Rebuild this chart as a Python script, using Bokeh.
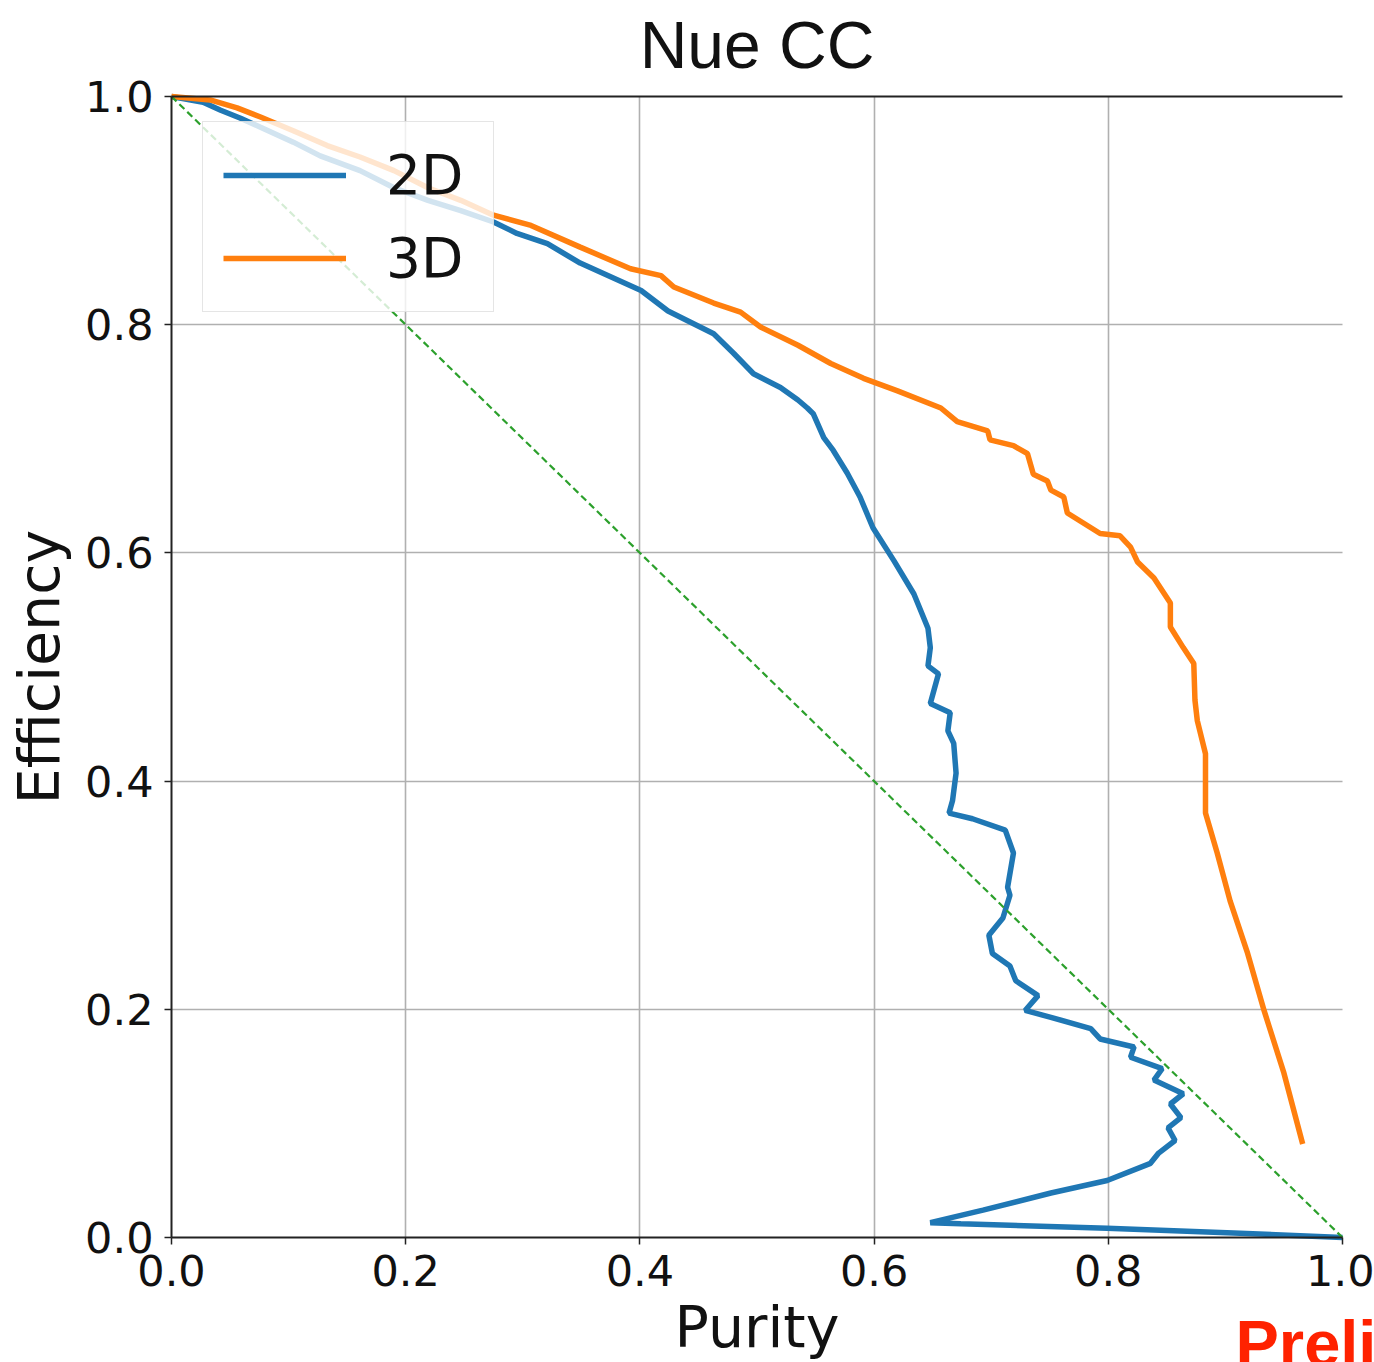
import math
from bokeh.plotting import figure
from bokeh.models import (Range1d, FixedTicker, Label, Legend, LegendItem,
                          LinearAxis, PrintfTickFormatter, Grid)
from bokeh.embed import file_html
from bokeh.resources import INLINE

# ---- data ----
title_text = "Nue CC"
x_label = "Purity"
y_label = "Efficiency"
stamp_text = "Preliminary"
series_names = ["2D", "3D"]
ticks = [0.0, 0.2, 0.4, 0.6, 0.8, 1.0]
grid_ticks = [0.2, 0.4, 0.6, 0.8]

purity_2d = [0.000, 0.027, 0.042, 0.059, 0.076, 0.104, 0.127, 0.161, 0.190, 0.219,
             0.247, 0.275, 0.295, 0.321, 0.349, 0.401, 0.424, 0.463, 0.480, 0.497,
             0.520, 0.535, 0.543, 0.548, 0.557, 0.565, 0.577, 0.588, 0.599, 0.617,
             0.634, 0.646, 0.648, 0.646, 0.655, 0.648, 0.665, 0.663, 0.668, 0.670,
             0.667, 0.664, 0.684, 0.712, 0.719, 0.714, 0.716, 0.710, 0.698, 0.701,
             0.716, 0.721, 0.740, 0.729, 0.751, 0.785, 0.793, 0.822, 0.819, 0.846,
             0.839, 0.864, 0.853, 0.862, 0.851, 0.857, 0.843, 0.836, 0.799, 0.751,
             0.693, 0.648, 0.674, 0.799, 0.907, 1.000]
eff_2d = [1.000, 0.995, 0.988, 0.981, 0.973, 0.960, 0.948, 0.935, 0.920, 0.909,
          0.900, 0.890, 0.880, 0.871, 0.854, 0.830, 0.812, 0.792, 0.775, 0.757,
          0.745, 0.734, 0.727, 0.722, 0.701, 0.690, 0.670, 0.649, 0.622, 0.593,
          0.564, 0.534, 0.517, 0.501, 0.494, 0.468, 0.460, 0.444, 0.433, 0.407,
          0.383, 0.372, 0.367, 0.357, 0.337, 0.307, 0.300, 0.280, 0.265, 0.249,
          0.238, 0.225, 0.212, 0.199, 0.193, 0.183, 0.174, 0.167, 0.158, 0.148,
          0.138, 0.126, 0.117, 0.105, 0.096, 0.085, 0.074, 0.065, 0.050, 0.039,
          0.024, 0.013, 0.012, 0.008, 0.004, 0.000]

purity_3d = [0.000, 0.033, 0.056, 0.076, 0.104, 0.133, 0.161, 0.190, 0.219, 0.247,
             0.275, 0.307, 0.349, 0.392, 0.418, 0.429, 0.463, 0.486, 0.503, 0.535,
             0.563, 0.591, 0.620, 0.657, 0.671, 0.697, 0.699, 0.719, 0.731, 0.736,
             0.748, 0.751, 0.762, 0.765, 0.779, 0.793, 0.810, 0.819, 0.825, 0.839,
             0.853, 0.853, 0.864, 0.873, 0.874, 0.876, 0.883, 0.883, 0.893, 0.904,
             0.919, 0.933, 0.950, 0.966]
eff_3d = [1.000, 0.997, 0.990, 0.982, 0.970, 0.957, 0.947, 0.935, 0.920, 0.909,
          0.896, 0.887, 0.868, 0.849, 0.843, 0.833, 0.819, 0.811, 0.798, 0.782,
          0.766, 0.753, 0.742, 0.727, 0.715, 0.707, 0.699, 0.694, 0.687, 0.669,
          0.663, 0.655, 0.649, 0.635, 0.626, 0.617, 0.615, 0.605, 0.592, 0.578,
          0.556, 0.535, 0.517, 0.503, 0.471, 0.453, 0.424, 0.372, 0.337, 0.295,
          0.249, 0.199, 0.144, 0.082]

diag_x = [0.0, 1.0]
diag_y = [1.0, 0.0]

# ---- figure: the frame fills the canvas; axes sit at fixed data locations ----
W, H = 1374, 1362
plot_left, plot_right, plot_top, plot_bottom = 171, 1342, 96, 1237  # pixel box of [0,1]x[0,1]
sx = plot_right - plot_left
sy = plot_bottom - plot_top
x_range = Range1d(-plot_left / sx, (W - plot_left) / sx)
y_range = Range1d(-(H - plot_bottom) / sy, plot_bottom / sy)

p = figure(width=W, height=H, x_range=x_range, y_range=y_range,
           output_backend="svg", toolbar_location=None,
           x_axis_location=None, y_axis_location=None,
           min_border=0, min_border_left=0, min_border_right=0,
           min_border_top=0, min_border_bottom=0)
p.background_fill_color = "white"
p.border_fill_color = "white"
p.outline_line_color = None
# drop the default full-canvas grids
p.center = [c for c in p.center if not isinstance(c, Grid)]

xaxis = LinearAxis(fixed_location=0.0, bounds=(0.0, 1.0), axis_label=x_label)
yaxis = LinearAxis(fixed_location=0.0, bounds=(0.0, 1.0), axis_label=y_label)
top_axis = LinearAxis(fixed_location=1.0, bounds=(0.0, 1.0))
p.add_layout(xaxis, "below")
p.add_layout(yaxis, "left")
p.add_layout(top_axis, "above")

for ax in (xaxis, yaxis, top_axis):
    ax.ticker = FixedTicker(ticks=ticks)
    ax.formatter = PrintfTickFormatter(format="%.1f")
    ax.major_label_text_font = "DejaVu Sans"
    ax.major_label_text_font_size = "43px"
    ax.major_label_text_color = "#111111"
    ax.axis_label_text_font = "DejaVu Sans"
    ax.axis_label_text_font_size = "57px"
    ax.axis_label_text_font_style = "normal"
    ax.axis_label_text_color = "#111111"
    ax.axis_line_color = "#222222"
    ax.axis_line_width = 2
    ax.major_tick_line_color = "#222222"
    ax.major_tick_line_width = 1.5
    ax.major_tick_in = 0
    ax.major_tick_out = 7
    ax.minor_tick_line_color = None
xaxis.major_label_standoff = 10
xaxis.axis_label_standoff = 5
yaxis.major_label_standoff = 11
yaxis.axis_label_standoff = 10
top_axis.major_tick_line_color = None
top_axis.major_label_text_color = None
top_axis.major_label_text_font_size = "1px"

xgrid = Grid(dimension=0, ticker=FixedTicker(ticks=grid_ticks), bounds=(0.0, 1.0),
             cross_bounds=(0.0, 1.0), grid_line_color="#b0b0b0", grid_line_width=1.6)
ygrid = Grid(dimension=1, ticker=FixedTicker(ticks=grid_ticks), bounds=(0.0, 1.0),
             cross_bounds=(0.0, 1.0), grid_line_color="#b0b0b0", grid_line_width=1.6)
p.add_layout(xgrid)
p.add_layout(ygrid)

r2 = p.line(purity_2d, eff_2d, line_color="#1f77b4", line_width=5.5)
r3 = p.line(purity_3d, eff_3d, line_color="#ff7f0e", line_width=5.5)
p.line(diag_x, diag_y, line_color="#2ca02c", line_width=2.2, line_dash="7 4")

legend = Legend(items=[LegendItem(label=series_names[0], renderers=[r2]),
                       LegendItem(label=series_names[1], renderers=[r3])],
                location=(202, H - 312), margin=0, padding=20, spacing=17,
                glyph_width=123, glyph_height=66, label_height=66, label_width=87,
                label_standoff=40,
                label_text_font="DejaVu Sans", label_text_font_size="55px",
                label_text_color="#111111",
                background_fill_color="white", background_fill_alpha=0.8,
                border_line_color="#cccccc", border_line_width=1.5)
p.add_layout(legend)

p.add_layout(Label(x=0.5, y=(plot_bottom - 44) / sy, text=title_text,
                   text_align="center", text_baseline="alphabetic",
                   text_font="Liberation Sans", text_font_size="66px",
                   text_color="#111111"))
p.add_layout(Label(x=(1235 - plot_left) / sx, y=(plot_bottom - 1343) / sy,
                   text=stamp_text, text_align="left", text_baseline="alphabetic",
                   text_font="Liberation Sans", text_font_style="bold",
                   text_font_size="65px", text_color="#ff2200"))

open("out.html", "w").write(file_html(p, INLINE))
